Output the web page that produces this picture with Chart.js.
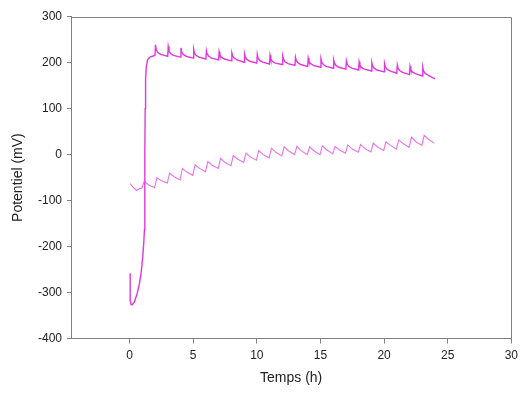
<!DOCTYPE html>
<html lang="fr">
<head>
<meta charset="UTF-8" />
<title>Potentiel (mV) / Temps (h)</title>
<script src="https://cdn.jsdelivr.net/npm/chart.js"></script>
<style>
  html, body { margin: 0; padding: 0; background: #fff; }
  #chart { display: block; }
</style>
</head>
<body>
<canvas id="chart" width="523" height="394"></canvas>
<script>
  // upper trace: start-up dip, fast rise, then one spike per hour
  const upperX = [
    0.05, 0.05, 0.12, 0.2, 0.39, 0.6, 0.78, 0.92, 1.04, 1.12, 1.17, 1.19, 1.21, 1.23, 1.26, 1.32, 1.42, 1.6, 1.8,
    2, 2.04, 2.1, 2.22, 2.45,
    3, 3.04, 3.1, 3.22, 3.45,
    4, 4.04, 4.1, 4.22, 4.45,
    5, 5.04, 5.1, 5.22, 5.45,
    6, 6.04, 6.1, 6.22, 6.45,
    7, 7.04, 7.1, 7.22, 7.45,
    8, 8.04, 8.1, 8.22, 8.45,
    9, 9.04, 9.1, 9.22, 9.45,
    10, 10.04, 10.1, 10.22, 10.45,
    11, 11.04, 11.1, 11.22, 11.45,
    12, 12.04, 12.1, 12.22, 12.45,
    13, 13.04, 13.1, 13.22, 13.45,
    14, 14.04, 14.1, 14.22, 14.45,
    15, 15.04, 15.1, 15.22, 15.45,
    16, 16.04, 16.1, 16.22, 16.45,
    17, 17.04, 17.1, 17.22, 17.45,
    18, 18.04, 18.1, 18.22, 18.45,
    19, 19.04, 19.1, 19.22, 19.45,
    20, 20.04, 20.1, 20.22, 20.45,
    21, 21.04, 21.1, 21.22, 21.45,
    22, 22.04, 22.1, 22.22, 22.45,
    23, 23.04, 23.1, 23.22, 23.45,
    24
  ];
  const upperY = [
    -258, -318, -326, -327, -320, -302, -280, -255, -222, -190, -164, -100, 0, 100, 165, 192, 206, 212, 214,
    216, 239, 228, 222, 218,
    214, 235, 225, 220, 216,
    212, 232, 223, 218, 214,
    210, 229, 221, 216, 212,
    208, 226, 219, 214, 210,
    206, 224, 217, 212, 208,
    204, 221, 215, 210, 206,
    201, 219, 212, 207, 203,
    199, 218, 210, 205, 201,
    197, 216, 208, 203, 199,
    196, 214, 207, 202, 198,
    194, 212, 205, 200, 196,
    192, 210, 203, 198, 194,
    190, 208, 201, 196, 192,
    188, 206, 199, 194, 190,
    186, 204, 197, 192, 188,
    184, 202, 195, 190, 186,
    182, 200, 193, 188, 184,
    180, 198, 191, 186, 182,
    177, 195, 188, 183, 179,
    174, 192, 185, 180, 176,
    171, 190, 182, 177, 173,
    165
  ];

  // lower trace: sawtooth, climbing slowly
  const lowerX = [
    0.05, 0.25, 0.55, 0.8, 0.97,
    1.15, 1.5, 1.97,
    2.15, 2.5, 2.97,
    3.15, 3.5, 3.97,
    4.15, 4.5, 4.97,
    5.15, 5.5, 5.97,
    6.15, 6.5, 6.97,
    7.15, 7.5, 7.97,
    8.15, 8.5, 8.97,
    9.15, 9.5, 9.97,
    10.15, 10.5, 10.97,
    11.15, 11.5, 11.97,
    12.15, 12.5, 12.97,
    13.15, 13.5, 13.97,
    14.15, 14.5, 14.97,
    15.15, 15.5, 15.97,
    16.15, 16.5, 16.97,
    17.15, 17.5, 17.97,
    18.15, 18.5, 18.97,
    19.15, 19.5, 19.97,
    20.15, 20.5, 20.97,
    21.15, 21.5, 21.97,
    22.15, 22.5, 22.97,
    23.15, 23.5, 23.95
  ];
  const lowerY = [
    -63, -70, -78, -74, -73,
    -58, -66, -72,
    -50, -57, -62,
    -40, -48, -55,
    -30, -38, -45,
    -22, -30, -37,
    -15, -23, -30,
    -8, -17, -24,
    -2, -10, -17,
    3, -5, -12,
    9, 0, -7,
    14, 5, -3,
    17, 8, 0,
    18, 8, 0,
    17, 8, 0,
    19, 10, 2,
    18, 10, 3,
    21, 12, 5,
    22, 13, 6,
    25, 16, 9,
    28, 20, 12,
    32, 24, 16,
    38, 28, 20,
    42, 33, 25
  ];

  const xTicks = [0, 5, 10, 15, 20, 25, 30];
  const yTicks = [-400, -300, -200, -100, 0, 100, 200, 300];

  const toPoints = (xs, ys) => xs.map((x, i) => ({ x: x, y: ys[i] }));

  // top and right edges of the plot box
  const frame = {
    id: 'frame',
    afterDraw(chart) {
      const a = chart.chartArea;
      const c = chart.ctx;
      c.save();
      c.strokeStyle = '#808080';
      c.lineWidth = 1;
      c.beginPath();
      c.moveTo(Math.round(a.left) + 0.5, Math.round(a.top) + 0.5);
      c.lineTo(Math.round(a.right) + 0.5, Math.round(a.top) + 0.5);
      c.lineTo(Math.round(a.right) + 0.5, Math.round(a.bottom) + 0.5);
      c.stroke();
      c.restore();
    }
  };

  Chart.defaults.font.family = '"Liberation Sans", Arial, sans-serif';
  Chart.defaults.color = '#222';

  new Chart(document.getElementById('chart'), {
    type: 'line',
    data: {
      datasets: [
        {
          data: toPoints(lowerX, lowerY),
          borderColor: 'rgba(226, 80, 226, 0.8)',
          borderWidth: 1.1,
          pointRadius: 0,
          tension: 0
        },
        {
          data: toPoints(upperX, upperY),
          borderColor: '#e236e2',
          borderWidth: 1.4,
          pointRadius: 0,
          tension: 0
        }
      ]
    },
    options: {
      responsive: false,
      animation: false,
      layout: { padding: { left: 4, right: 8.5, top: 16.7, bottom: 4 } },
      plugins: { legend: { display: false }, tooltip: { enabled: false } },
      scales: {
        x: {
          type: 'linear',
          min: -4.6,
          max: 30,
          afterBuildTicks: s => { s.ticks = xTicks.map(v => ({ value: v })); },
          afterFit: s => { s.height = 51.5; },
          grid: { display: true, drawOnChartArea: false, tickLength: 5, color: '#808080' },
          border: { color: '#808080' },
          ticks: { font: { size: 12 }, padding: 5, maxRotation: 0 },
          title: { display: true, text: 'Temps (h)', font: { size: 14 }, padding: { top: 0, bottom: 3 } }
        },
        y: {
          min: -400,
          max: 300,
          afterBuildTicks: s => { s.ticks = yTicks.map(v => ({ value: v })); },
          afterFit: s => { s.width = 67; },
          grid: { display: true, drawOnChartArea: false, tickLength: 4, color: '#808080' },
          border: { color: '#808080' },
          ticks: { font: { size: 12 }, padding: 5 },
          title: { display: true, text: 'Potentiel (mV)', font: { size: 14 }, padding: { top: 6, bottom: 0 } }
        }
      }
    },
    plugins: [frame]
  });
</script>
</body>
</html>
